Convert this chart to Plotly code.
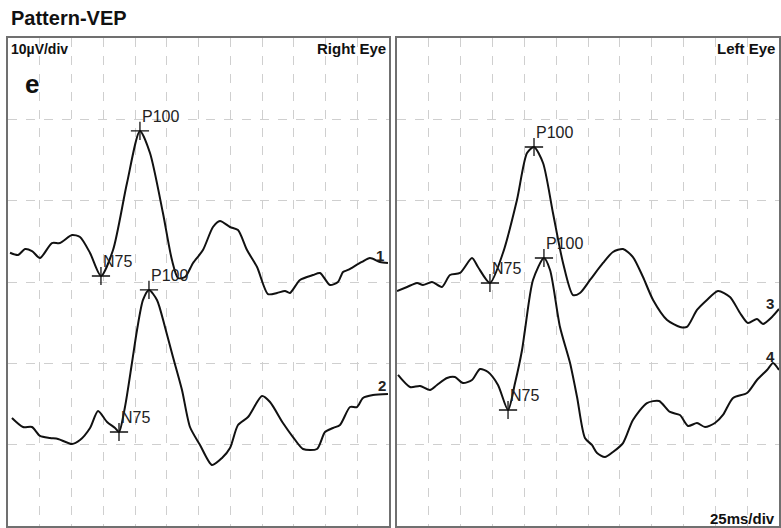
import plotly.graph_objects as go

# ---- data (time in ms, amplitude position in µV on a 0..60 µV display) ----
t1 = [1.6, 7.9, 13.4, 18.9, 25.2, 34.6, 40.9, 50.4, 56.7, 64.6, 73.2, 82.7, 93.7, 103.9, 111.8,
      122.0, 129.1, 133.9, 139.4, 145.7, 153.5, 161.4, 166.9, 174.8, 181.1, 188.2, 196.1, 204.7,
      211.8, 218.1, 222.0, 229.9, 240.2, 245.7, 253.5, 259.8, 263.8, 267.7, 271.7, 278.7, 285.0,
      292.9, 299.2]
v1 = [33.60, 33.32, 34.06, 33.81, 32.95, 34.79, 34.79, 35.78, 35.53, 33.57, 30.74, 33.93, 42.17,
      48.57, 45.86, 38.48, 32.70, 30.49, 30.61, 32.34, 33.93, 36.76, 37.50, 36.76, 36.39, 33.93,
      31.84, 28.52, 28.65, 28.89, 28.65, 30.25, 30.86, 31.11, 29.63, 30.00, 31.23, 31.48, 31.84,
      32.46, 32.95, 32.46, 32.34]

t2 = [3.1, 11.8, 18.9, 25.2, 33.1, 39.4, 50.4, 56.7, 64.6, 70.9, 78.0, 84.3, 87.4, 92.1, 97.6,
      101.6, 106.3, 111.0, 117.3, 123.6, 129.9, 137.0, 143.3, 151.2, 160.6, 168.5, 174.8, 181.1,
      189.0, 200.0, 206.3, 216.5, 224.4, 232.3, 243.3, 249.6, 255.9, 261.4, 269.3, 274.8, 279.5,
      287.4, 299.2]
v2 = [13.28, 12.17, 12.17, 11.07, 10.82, 10.70, 10.08, 10.57, 12.05, 14.14, 12.79, 12.05, 11.56,
      14.63, 20.04, 24.10, 27.79, 29.02, 27.79, 24.47, 20.78, 16.72, 12.17, 9.96, 7.50, 8.36, 9.59,
      12.42, 13.40, 15.98, 15.25, 12.66, 10.94, 9.47, 9.47, 11.56, 12.05, 12.42, 14.63, 14.63,
      15.74, 16.11, 16.23]

t3 = [0.0, 7.9, 15.7, 20.4, 27.5, 35.3, 41.6, 49.5, 58.9, 63.6, 73.0, 83.2, 94.2, 102.1, 107.6,
      114.7, 122.5, 130.4, 138.2, 143.7, 151.6, 161.8, 169.6, 177.5, 185.3, 193.2, 201.1, 212.1,
      222.3, 227.7, 235.6, 243.4, 252.1, 261.5, 269.4, 275.6, 282.7, 287.4, 294.5, 300.0]
v3 = [28.89, 29.39, 29.88, 29.63, 30.00, 29.39, 30.86, 31.11, 32.95, 31.84, 29.88, 33.57, 40.08,
      45.86, 46.60, 44.63, 38.48, 32.34, 28.40, 28.65, 30.25, 32.34, 33.69, 34.06, 33.07, 30.61,
      27.79, 25.33, 24.47, 24.47, 26.56, 27.79, 28.89, 28.16, 26.19, 24.96, 25.45, 24.84, 25.70,
      26.68]

t4 = [0.8, 10.2, 18.1, 25.9, 31.4, 39.3, 45.5, 51.8, 58.9, 65.2, 71.5, 79.3, 87.2, 92.7, 98.2,
      100.5, 106.8, 115.4, 120.2, 128.0, 135.9, 141.4, 147.6, 153.1, 157.1, 163.3, 169.6, 177.5,
      185.3, 196.3, 205.8, 214.4, 222.2, 228.5, 235.6, 241.9, 249.7, 256.0, 263.9, 274.9, 282.7,
      290.6, 295.3, 300.0]
v4 = [18.57, 17.09, 17.21, 16.72, 17.34, 18.20, 18.32, 17.58, 17.95, 19.30, 18.93, 17.34, 14.26,
      17.58, 21.64, 24.10, 30.25, 32.95, 31.48, 24.47, 20.04, 15.86, 10.82, 9.96, 8.98, 8.48, 9.10,
      10.20, 13.03, 15.12, 15.37, 14.02, 13.65, 12.30, 12.66, 12.17, 12.66, 13.65, 15.74, 16.35,
      17.95, 19.18, 20.04, 19.18]

# peak markers: (label, time ms, amplitude)
peaks_right = [("P100", 103.9, 48.57), ("N75", 73.2, 30.74),
               ("P100", 111.0, 29.02), ("N75", 87.4, 11.56)]
peaks_left = [("P100", 107.6, 46.60), ("N75", 73.0, 29.88),
              ("P100", 115.4, 32.95), ("N75", 87.2, 14.26)]

trace_numbers_right = [("1", 292.9, 33.3), ("2", 294.5, 17.3)]
trace_numbers_left = [("3", 292.9, 27.4), ("4", 293.7, 20.8)]

x_range = [0, 300]
y_range = [0, 60]
x_div = 25
y_div = 10

# ---- figure ----
fig = go.Figure()
line_style = dict(color="#111111", width=2, shape="spline", smoothing=0.7)

for t, v in [(t1, v1), (t2, v2)]:
    fig.add_trace(go.Scatter(x=t, y=v, mode="lines", line=line_style, xaxis="x", yaxis="y",
                             hoverinfo="skip", showlegend=False))
for t, v in [(t3, v3), (t4, v4)]:
    fig.add_trace(go.Scatter(x=t, y=v, mode="lines", line=line_style, xaxis="x2", yaxis="y2",
                             hoverinfo="skip", showlegend=False))

marker_style = dict(symbol="cross-thin", size=13, color="#111111",
                    line=dict(width=1.3, color="#111111"))
fig.add_trace(go.Scatter(x=[p[1] for p in peaks_right], y=[p[2] for p in peaks_right],
                         mode="markers", marker=marker_style, xaxis="x", yaxis="y",
                         showlegend=False))
fig.add_trace(go.Scatter(x=[p[1] for p in peaks_left], y=[p[2] for p in peaks_left],
                         mode="markers", marker=marker_style, xaxis="x2", yaxis="y2",
                         showlegend=False))

annotations = []
label_font = dict(family="Liberation Sans, Arial, sans-serif", size=16, color="#222222")
for peaks, xr, yr in [(peaks_right, "x", "y"), (peaks_left, "x2", "y2")]:
    for name, t, v in peaks:
        annotations.append(dict(x=t, y=v, xref=xr, yref=yr, text=name, showarrow=False,
                                xanchor="left", yanchor="bottom", xshift=1, yshift=5,
                                font=label_font, borderpad=0))

num_font = dict(family="Liberation Sans, Arial, sans-serif", size=15, color="#222222")
for nums, xr, yr in [(trace_numbers_right, "x", "y"), (trace_numbers_left, "x2", "y2")]:
    for name, t, v in nums:
        annotations.append(dict(x=t, y=v, xref=xr, yref=yr, text="<b>%s</b>" % name,
                                showarrow=False, xanchor="center", yanchor="middle",
                                font=num_font))

bold = "Liberation Sans, Arial, sans-serif"
W, H = 781, 528
annotations += [
    dict(x=9 / W, y=1 - 18 / H, xref="paper", yref="paper", text="<b>Pattern-VEP</b>",
         showarrow=False, xanchor="left", yanchor="middle",
         font=dict(family=bold, size=20, color="#111111")),
    dict(x=9 / W, y=1 - 49 / H, xref="paper", yref="paper", text="<b>10µV/div</b>",
         showarrow=False, xanchor="left", yanchor="middle",
         font=dict(family=bold, size=14, color="#111111")),
    dict(x=388 / W, y=1 - 48 / H, xref="paper", yref="paper", text="<b>Right Eye</b>",
         showarrow=False, xanchor="right", yanchor="middle",
         font=dict(family=bold, size=15, color="#111111")),
    dict(x=777 / W, y=1 - 48 / H, xref="paper", yref="paper", text="<b>Left Eye</b>",
         showarrow=False, xanchor="right", yanchor="middle",
         font=dict(family=bold, size=15, color="#111111")),
    dict(x=777 / W, y=1 - 518 / H, xref="paper", yref="paper", text="<b>25ms/div</b>",
         showarrow=False, xanchor="right", yanchor="middle",
         font=dict(family=bold, size=15, color="#111111")),
    dict(x=23 / W, y=1 - 84 / H, xref="paper", yref="paper", text="<b>e</b>",
         showarrow=False, xanchor="left", yanchor="middle",
         font=dict(family=bold, size=26, color="#111111")),
]

axis_common = dict(showticklabels=False, ticks="", zeroline=False, showgrid=True,
                   gridcolor="#cfcfcf", gridwidth=1, griddash="dash",
                   showline=True, mirror=True, linecolor="#707070", linewidth=1.5)

fig.update_layout(
    width=W, height=H,
    margin=dict(l=0, r=0, t=0, b=0),
    paper_bgcolor="white", plot_bgcolor="white",
    showlegend=False,
    xaxis=dict(domain=[8 / W, 389 / W], range=x_range, dtick=x_div, tick0=0, anchor="y",
               **axis_common),
    yaxis=dict(domain=[2 / H, 490 / H], range=y_range, dtick=y_div, tick0=0, anchor="x",
               **axis_common),
    xaxis2=dict(domain=[397 / W, 779 / W], range=x_range, dtick=x_div, tick0=0, anchor="y2",
                **axis_common),
    yaxis2=dict(domain=[2 / H, 490 / H], range=y_range, dtick=y_div, tick0=0, anchor="x2",
                **axis_common),
    annotations=annotations,
)

fig.write_html("out.html")
